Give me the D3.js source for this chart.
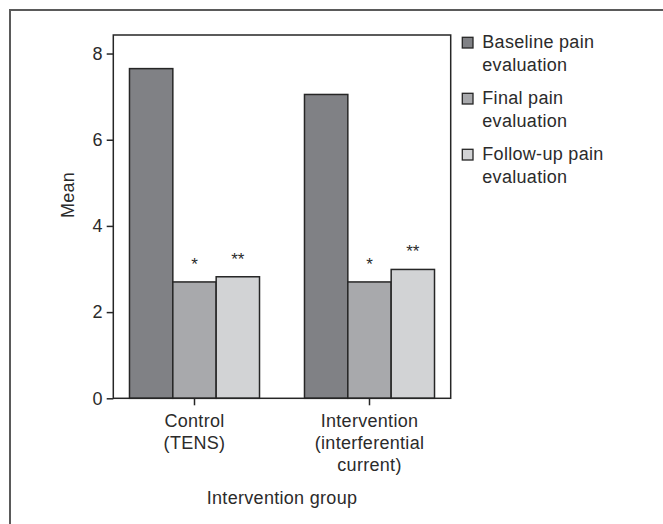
<!DOCTYPE html>
<html>
<head>
<meta charset="utf-8">
<script src="https://cdn.jsdelivr.net/npm/d3@7"></script>
<style>
  html, body { margin: 0; padding: 0; background: #fff; }
  svg { display: block; }
  text { font-family: "Liberation Sans", Arial, Helvetica, sans-serif; fill: #2b2b2b; letter-spacing: 0.3px; }
</style>
</head>
<body>
<svg id="chart" width="663" height="524"></svg>
<script>
// ---- data ----
const groups = ["Control (TENS)", "Intervention (interferential current)"];
const groupLabelLines = [["Control", "(TENS)"], ["Intervention", "(interferential", "current)"]];
const seriesNames = ["Baseline pain evaluation", "Final pain evaluation", "Follow-up pain evaluation"];
const legendLines = [["Baseline pain", "evaluation"], ["Final pain", "evaluation"], ["Follow-up pain", "evaluation"]];
const baselineValues = [7.65, 7.05];
const finalValues = [2.70, 2.70];
const followupValues = [2.82, 2.99];
const significance = [["", "*", "**"], ["", "*", "**"]];
const yTicks = [0, 2, 4, 6, 8];
const yTitle = "Mean";
const xTitle = "Intervention group";

// ---- layout / style ----
const colors = ["#808185", "#a8a9ac", "#d2d3d5"];
const plot = { left: 113.3, right: 450.7, top: 35, bottom: 398.3 };

const svg = d3.select("#chart");

// outer frame (extends past the right/bottom edges)
svg.append("rect")
  .attr("x", 10).attr("y", 10)
  .attr("width", 700).attr("height", 600)
  .attr("fill", "none").attr("stroke", "#5a5a5a").attr("stroke-width", 2);

const x0 = d3.scaleBand().domain(groups).range([plot.left, plot.right])
  .paddingInner(0.257).paddingOuter(0.0925);
const x1 = d3.scaleBand().domain(seriesNames).range([0, x0.bandwidth()]);
const y = d3.scaleLinear().domain([0, 8.43]).range([plot.bottom, plot.top]);

const table = groups.map((g, i) => ({
  group: g,
  values: [baselineValues[i], finalValues[i], followupValues[i]].map((v, j) => ({
    series: seriesNames[j], value: v, color: colors[j], sig: significance[i][j]
  }))
}));

// bars
const gGroups = svg.append("g").selectAll("g").data(table).join("g")
  .attr("transform", d => `translate(${x0(d.group)},0)`);

gGroups.selectAll("rect").data(d => d.values).join("rect")
  .attr("x", d => x1(d.series))
  .attr("y", d => y(d.value))
  .attr("width", x1.bandwidth())
  .attr("height", d => y(0) - y(d.value))
  .attr("fill", d => d.color)
  .attr("stroke", "#262626").attr("stroke-width", 1.5);

gGroups.selectAll("text.sig").data(d => d.values.filter(v => v.sig)).join("text")
  .attr("class", "sig")
  .attr("x", d => x1(d.series) + x1.bandwidth() / 2)
  .attr("y", d => y(d.value) - 12)
  .attr("text-anchor", "middle")
  .style("font-size", "17px")
  .style("letter-spacing", "0px")
  .text(d => d.sig);

// plot frame
svg.append("rect")
  .attr("x", plot.left).attr("y", plot.top)
  .attr("width", plot.right - plot.left).attr("height", plot.bottom - plot.top)
  .attr("fill", "none").attr("stroke", "#262626").attr("stroke-width", 1.5);

// y axis
const yAxis = svg.append("g")
  .attr("transform", `translate(${plot.left},0)`)
  .call(d3.axisLeft(y).tickValues(yTicks).tickSize(6.6).tickPadding(4).tickFormat(d3.format("d")));
yAxis.select(".domain").remove();
yAxis.selectAll(".tick line").attr("stroke", "#262626").attr("stroke-width", 1.5);
yAxis.selectAll(".tick text").style("font-size", "18px").attr("fill", "#2b2b2b")
  .style("font-family", "'Liberation Sans', Arial, sans-serif");

// x axis
const xAxis = svg.append("g")
  .attr("transform", `translate(0,${plot.bottom})`)
  .call(d3.axisBottom(x0).tickSize(7).tickSizeOuter(0));
xAxis.select(".domain").remove();
xAxis.selectAll(".tick line").attr("stroke", "#262626").attr("stroke-width", 1.5);
xAxis.selectAll(".tick text").each(function(d, i) {
  const t = d3.select(this);
  t.text(null).attr("y", 29).attr("dy", null)
    .style("font-size", "18px").attr("fill", "#2b2b2b")
    .style("font-family", "'Liberation Sans', Arial, sans-serif");
  groupLabelLines[i].forEach((line, k) => {
    t.append("tspan").attr("x", 0).attr("dy", k === 0 ? 0 : 22).text(line);
  });
});

// axis titles
svg.append("text")
  .attr("x", (plot.left + plot.right) / 2).attr("y", 503.5)
  .attr("text-anchor", "middle").style("font-size", "18px")
  .text(xTitle);

svg.append("text")
  .attr("transform", `translate(74,195) rotate(-90)`)
  .attr("text-anchor", "middle").style("font-size", "18px")
  .text(yTitle);

// legend
const legend = svg.append("g").selectAll("g").data(seriesNames).join("g")
  .attr("transform", (d, i) => `translate(462.3,${37.3 + i * 56})`);
legend.append("rect")
  .attr("width", 10.7).attr("height", 10.7)
  .attr("fill", (d, i) => colors[i])
  .attr("stroke", "#262626").attr("stroke-width", 1.3);
legend.append("text")
  .attr("x", 20).attr("y", 11)
  .style("font-size", "18px")
  .each(function(d, i) {
    const t = d3.select(this);
    legendLines[i].forEach((line, k) => {
      t.append("tspan").attr("x", 20).attr("dy", k === 0 ? 0 : 22.3).text(line);
    });
  });
</script>
</body>
</html>
